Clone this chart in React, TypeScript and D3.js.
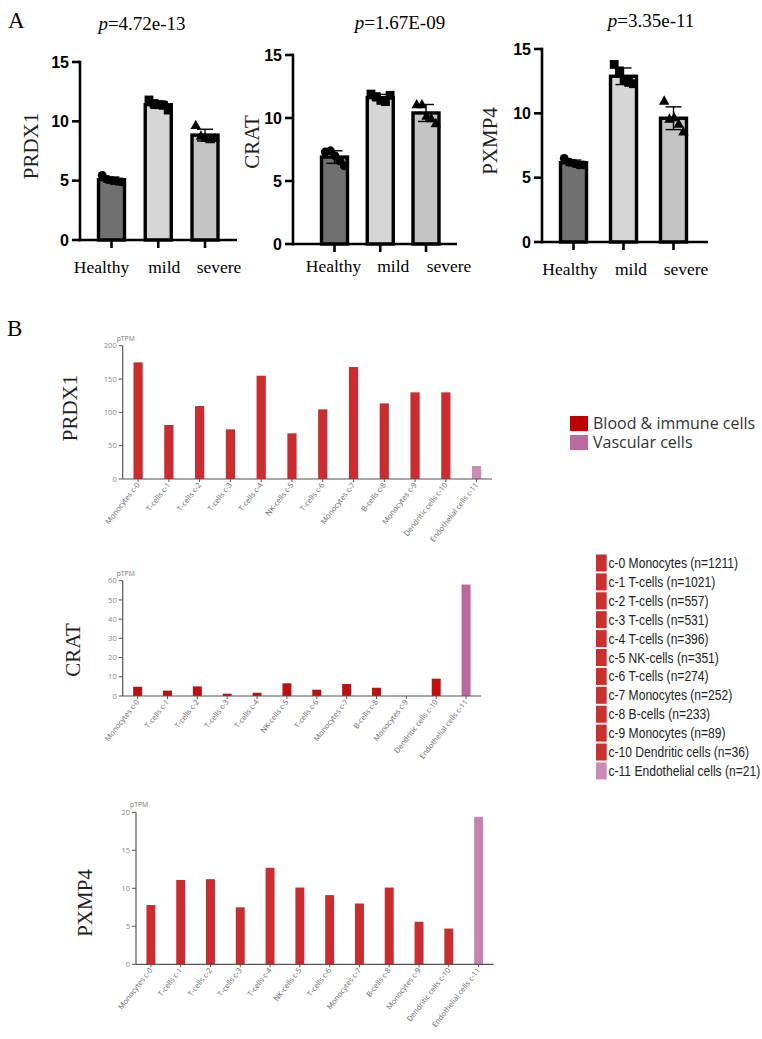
import React from "react";
import * as d3 from "d3";

// ---------- Panel A data ----------
const groups = ["Healthy", "mild", "severe"];
const groupFill = ["#707070", "#d6d6d6", "#c4c4c4"];
const genesA = ["PRDX1", "CRAT", "PXMP4"];
const pValuesA = ["4.72e-13", "1.67E-09", "3.35e-11"];
const yTicksA = [0, 5, 10, 15];

const prdx1Points = [
  [5.45, 5.1, 5.0, 4.95, 4.9],
  [11.8, 11.5, 11.4, 11.35, 10.95],
  [9.7, 8.8, 8.6, 8.5, 8.6],
];
const cratPoints = [
  [7.3, 7.4, 7.0, 6.6, 6.2],
  [11.9, 11.7, 11.4, 11.3, 11.8],
  [11.1, 11.1, 10.2, 10.0, 9.6],
];
const pxmp4Points = [
  [6.5, 6.2, 6.1, 6.0, 6.0],
  [13.8, 13.3, 12.6, 12.4, 12.3],
  [11.0, 9.6, 9.7, 9.2, 8.6],
];
const pointsA = [prdx1Points, cratPoints, pxmp4Points];

// ---------- Panel B data ----------
const clusters = [
  "Monocytes c-0", "T-cells c-1", "T-cells c-2", "T-cells c-3", "T-cells c-4", "NK-cells c-5",
  "T-cells c-6", "Monocytes c-7", "B-cells c-8", "Monocytes c-9", "Dendritic cells c-10", "Endothelial cells c-11",
];
const clusterType = ["b", "b", "b", "b", "b", "b", "b", "b", "b", "b", "b", "v"];
const prdx1Tpm = [175, 81, 109.5, 74.5, 155, 68.5, 104.5, 168, 113.5, 130, 130, 19.5];
const cratTpm = [4.8, 2.8, 5.0, 1.2, 1.7, 6.6, 3.3, 6.25, 4.3, 0, 9.0, 58];
const pxmp4Tpm = [7.8, 11.1, 11.2, 7.5, 12.7, 10.1, 9.1, 8.0, 10.1, 5.6, 4.7, 19.4];
const genesB = ["PRDX1", "CRAT", "PXMP4"];
const tpmB = [prdx1Tpm, cratTpm, pxmp4Tpm];
const yMaxB = [200, 60, 20];
const yTicksB = [
  [0, 50, 100, 150, 200],
  [0, 10, 20, 30, 40, 50, 60],
  [0, 5, 10, 15, 20],
];
const legendTypes = ["Blood & immune cells", "Vascular cells"];
const clusterLegend = [
  "c-0 Monocytes (n=1211)", "c-1 T-cells (n=1021)", "c-2 T-cells (n=557)", "c-3 T-cells (n=531)",
  "c-4 T-cells (n=396)", "c-5 NK-cells (n=351)", "c-6 T-cells (n=274)", "c-7 Monocytes (n=252)",
  "c-8 B-cells (n=233)", "c-9 Monocytes (n=89)", "c-10 Dendritic cells (n=36)", "c-11 Endothelial cells (n=21)",
];

// ---------- layout ----------
const layoutA = [
  { ax: 80, y0: 240, yTop: 62, xEnd: 237, c0: 111.5, c2: 205, ylx: 38, yly: 146, tx: 142, ty: 30, lab: 273, lo: [-10, 6, 14] },
  { ax: 293, y0: 244, yTop: 55, xEnd: 457, c0: 334.5, c2: 426, ylx: 259, yly: 142, tx: 400, ty: 29, lab: 272, lo: [-1, 13, 23] },
  { ax: 542, y0: 242, yTop: 49, xEnd: 708, c0: 573.5, c2: 673.5, ylx: 497, yly: 141, tx: 651, ty: 27, lab: 275, lo: [-3.5, 7.5, 12.5] },
];
const layoutB = [
  { ax: 122.7, y0: 479, yTop: 345.7, xEnd: 492, ylx: 77, yly: 408 },
  { ax: 122.7, y0: 696, yTop: 580.7, xEnd: 481, ylx: 80, yly: 650 },
  { ax: 136, y0: 964.3, yTop: 812.3, xEnd: 493.5, ylx: 92, yly: 903 },
];
const barRed = ["#c92d30", "#bf1010", "#c92d30"];
const barPink = ["#cb8cb7", "#b9679d", "#c882ae"];
const jitter = [-0.32, -0.14, 0.02, 0.18, 0.34];
const SERIF = "Liberation Serif, Times New Roman, serif";

function Marker({ kind, x, y }: { kind: number; x: number; y: number }) {
  if (kind === 0) return <circle cx={x} cy={y} r={4.4} fill="#000" />;
  if (kind === 1) return <rect x={x - 4.4} y={y - 4.4} width={8.8} height={8.8} fill="#000" />;
  const s = 5.2;
  return <path d={`M${x},${y - s} L${x + s},${y + s * 0.8} L${x - s},${y + s * 0.8} Z`} fill="#000" />;
}

function PanelAChart({ i }: { i: number }) {
  const L = layoutA[i];
  const y = d3.scaleLinear().domain([0, 15]).range([L.y0, L.yTop]);
  const x = d3.scalePoint<string>().domain(groups).range([L.c0, L.c2]);
  const bw = 29;
  const pts = pointsA[i];
  return (
    <g>
      <text x={L.tx} y={L.ty} textAnchor="middle" fontFamily={SERIF} fontSize={19}>
        <tspan fontStyle="italic">p</tspan>={pValuesA[i]}
      </text>
      <text transform={`translate(${L.ylx},${L.yly}) rotate(-90)`} textAnchor="middle" fontFamily={SERIF} fontSize={21} fill="#222">
        {genesA[i]}
      </text>
      {groups.map((g, gi) => {
        const vals = pts[gi];
        const m = d3.mean(vals) as number;
        const sd = d3.deviation(vals) as number;
        const cx = x(g) as number;
        return (
          <g key={g}>
            <rect x={cx - bw / 2 + 1.5} y={y(m)} width={bw - 3} height={L.y0 - y(m)} fill={groupFill[gi]} stroke="#000" strokeWidth={3.4} />
            {vals.map((v, k) => (
              <Marker key={k} kind={gi} x={cx + jitter[k] * bw} y={y(v)} />
            ))}
            <line x1={cx} x2={cx} y1={y(m + sd)} y2={y(m - sd)} stroke="#000" strokeWidth={1.4} />
            <line x1={cx - 8} x2={cx + 8} y1={y(m + sd)} y2={y(m + sd)} stroke="#000" strokeWidth={1.4} />
            <line x1={cx - 8} x2={cx + 8} y1={y(m - sd)} y2={y(m - sd)} stroke="#000" strokeWidth={1.4} />
            <line x1={cx} x2={cx} y1={L.y0} y2={L.y0 + 8} stroke="#000" strokeWidth={2.6} />
            <text x={cx + L.lo[gi]} y={L.lab} textAnchor="middle" fontFamily={SERIF} fontSize={17.5}>
              {g}
            </text>
          </g>
        );
      })}
      <line x1={L.ax} x2={L.ax} y1={L.yTop - 1.3} y2={L.y0 + 1.3} stroke="#000" strokeWidth={2.6} />
      <line x1={L.ax - 1.3} x2={L.xEnd} y1={L.y0} y2={L.y0} stroke="#000" strokeWidth={2.6} />
      {yTicksA.map((t) => (
        <g key={t}>
          <line x1={L.ax - 8} x2={L.ax} y1={y(t)} y2={y(t)} stroke="#000" strokeWidth={2.6} />
          <text x={L.ax - 11} y={y(t) + 5.5} textAnchor="end" fontFamily="Liberation Sans, Arial, sans-serif" fontWeight="bold" fontSize={16}>
            {t}
          </text>
        </g>
      ))}
    </g>
  );
}

function PanelBChart({ i }: { i: number }) {
  const L = layoutB[i];
  const y = d3.scaleLinear().domain([0, yMaxB[i]]).range([L.y0, L.yTop]);
  const x = d3.scaleBand<string>().domain(clusters).range([L.ax, L.xEnd]).paddingInner(0.7).paddingOuter(0.35);
  const vals = tpmB[i];
  return (
    <g>
      <text transform={`translate(${L.ylx},${L.yly}) rotate(-90)`} textAnchor="middle" fontFamily={SERIF} fontSize={21} fill="#222">
        {genesB[i]}
      </text>
      <text x={L.ax - 6} y={L.yTop - 5} fontFamily="Open Sans, sans-serif" fontSize={6.8} fill="#777">
        pTPM
      </text>
      {clusters.map((c, k) => {
        const v = vals[k];
        const bx = x(c) as number;
        const cx = bx + x.bandwidth() / 2;
        return (
          <g key={c}>
            {v > 0 && (
              <rect x={bx} y={y(v)} width={x.bandwidth()} height={L.y0 - y(v)} fill={clusterType[k] === "b" ? barRed[i] : barPink[i]} />
            )}
            <line x1={cx} x2={cx} y1={L.y0} y2={L.y0 + 3} stroke="#555" strokeWidth={1} />
            <text
              transform={`translate(${cx + 2},${L.y0 + 6}) rotate(-52)`}
              textAnchor="end"
              fontFamily="Open Sans, sans-serif"
              fontSize={7.5}
              fill="#666"
            >
              {c}
            </text>
          </g>
        );
      })}
      <line x1={L.ax} x2={L.ax} y1={L.yTop} y2={L.y0} stroke="#555" strokeWidth={1.2} />
      <line x1={L.ax} x2={L.xEnd} y1={L.y0} y2={L.y0} stroke="#555" strokeWidth={1.2} />
      {yTicksB[i].map((t) => (
        <g key={t}>
          <line x1={L.ax - 4} x2={L.ax} y1={y(t)} y2={y(t)} stroke="#555" strokeWidth={1} />
          <text x={L.ax - 6} y={y(t) + 2.6} textAnchor="end" fontFamily="Open Sans, sans-serif" fontSize={7.5} fill="#888">
            {t}
          </text>
        </g>
      ))}
    </g>
  );
}

export default function App() {
  const legendColors = ["#c00000", "#b86a9e"];
  return (
    <div style={{ position: "absolute", left: 0, top: 0 }}>
      <svg width={762} height={1039} style={{ display: "block", background: "#fff" }}>
        <rect width={762} height={1039} fill="#fff" />
        <text x={8} y={28} fontFamily={SERIF} fontSize={23}>A</text>
        <text x={7} y={336} fontFamily={SERIF} fontSize={23}>B</text>
        {[0, 1, 2].map((i) => (
          <PanelAChart key={i} i={i} />
        ))}
        {[0, 1, 2].map((i) => (
          <PanelBChart key={i} i={i} />
        ))}
        {legendTypes.map((t, k) => (
          <g key={t}>
            <rect x={570} y={416 + k * 19} width={18} height={15} fill={legendColors[k]} />
            <text x={593} y={429 + k * 19} fontFamily="Open Sans, sans-serif" fontSize={16} fill="#333">
              {t}
            </text>
          </g>
        ))}
        {clusterLegend.map((t, k) => (
          <g key={t}>
            <rect x={596} y={554.5 + k * 18.9} width={10.7} height={17} fill={clusterType[k] === "b" ? "#c9302f" : "#c98ab5"} />
            <text
              transform={`translate(608.5,${568 + k * 18.9}) scale(0.78,1)`}
              fontFamily="Liberation Sans, Arial, sans-serif"
              fontSize={15.5}
              fill="#222"
            >
              {t}
            </text>
          </g>
        ))}
      </svg>
    </div>
  );
}
